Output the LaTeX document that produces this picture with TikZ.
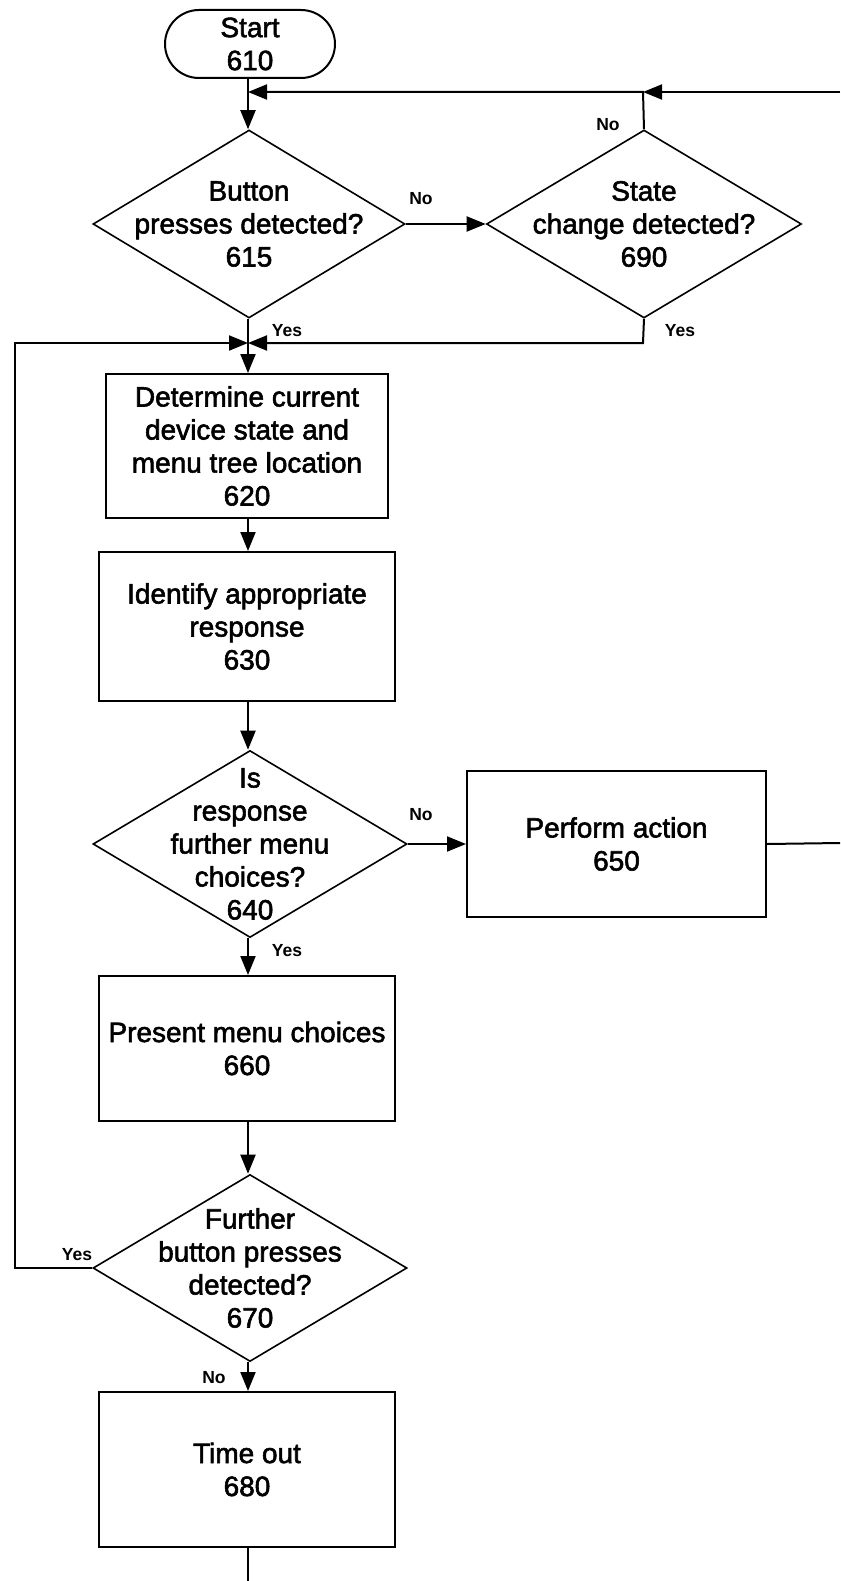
\documentclass[tikz,border=0pt]{standalone}
\usepackage{fontspec}
\setmainfont{Liberation Sans}
\newfontfamily\heavysans[FakeBold=2]{Liberation Sans}
\usetikzlibrary{shapes.geometric,arrows.meta}
\begin{document}
\begin{tikzpicture}[x=1pt,y=-1pt,
  line width=2pt,
  box/.style={draw, rectangle, inner sep=0pt, align=center,
    font=\heavysans\fontsize{28}{33}\selectfont},
  dia/.style={draw, diamond, inner sep=0pt, line width=1.6pt},
  txt/.style={align=center, font=\heavysans\fontsize{28}{33}\selectfont, inner sep=0pt},
  lab/.style={font=\bfseries\fontsize{17.5}{17.5}\selectfont, inner sep=0pt},
  arr/.style={-{Triangle[length=19pt,width=15pt]}}]
\useasboundingbox (0,0) rectangle (840,1581);

% terminal
\node[box, rounded corners=34pt, minimum width=170pt, minimum height=68pt]
  (s610) at (250,44) {Start\\610};

% decisions
\node[dia, minimum width=312pt, minimum height=188pt] (d615) at (249,224) {};
\node[txt] (t615) at (d615.center) {Button\\presses detected?\\615};
\node[dia, minimum width=315pt, minimum height=188pt] (d690) at (644,224) {};
\node[txt] (t690) at (d690.center) {State\\change detected?\\690};
\node[dia, minimum width=314pt, minimum height=187pt] (d640) at (250,844) {};
\node[txt] (t640) at (d640.center) {Is\\response\\further menu\\choices?\\640};
\node[dia, minimum width=314pt, minimum height=187pt] (d670) at (250,1268) {};
\node[txt] (t670) at (d670.center) {Further\\button presses\\detected?\\670};

% process steps
\node[box, minimum width=282pt, minimum height=144pt] (b620) at (247,446)
  {Determine current\\device state and\\menu tree location\\620};
\node[box, minimum width=296pt, minimum height=149pt] (b630) at (247,626.5)
  {Identify appropriate\\response\\630};
\node[box, minimum width=299pt, minimum height=146pt] (b650) at (616.5,844)
  {Perform action\\650};
\node[box, minimum width=296pt, minimum height=145pt] (b660) at (247,1048.5)
  {Present menu choices\\660};
\node[box, minimum width=296pt, minimum height=155pt] (b680) at (247,1469.5)
  {Time out\\680};

% junction points and free ends
\coordinate (top) at (248,92);
\coordinate (top690) at (643,92);
\coordinate (edgeTop) at (840,92);
\coordinate (join) at (248,343);
\coordinate (join690) at (643,343);
\coordinate (loopB) at (15,1268);
\coordinate (loopT) at (15,343);
\coordinate (edge650) at (840,843);
\coordinate (edgeBot) at (248,1581);

% connectors
\draw[arr] (s610.south -| top) -- (top |- d615.north);
\draw[arr] (edgeTop) -- (top690);
\draw[arr] (d690.north) -- (top690) -- (top);
\draw[arr] (d615.east) -- (d690.west);
\draw[arr] (d615.south -| join) -- (join |- b620.north);
\draw[arr] (d690.south) -- (join690) -- (join);
\draw[arr] (d670.west) -- (loopB) -- (loopT) -- (join);
\draw[arr] (b620.south -| join) -- (join |- b630.north);
\draw[arr] (b630.south -| join) -- (join |- d640.north);
\draw[arr] (d640.east) -- (b650.west);
\draw (b650.east) -- (edge650);
\draw[arr] (d640.south -| join) -- (join |- b660.north);
\draw[arr] (b660.south -| join) -- (join |- d670.north);
\draw[arr] (d670.south -| join) -- (join |- b680.north);
\draw (b680.south -| join) -- (edgeBot);

% branch labels
\node[lab] (l1) at (608,125) {No};
\node[lab] (l2) at (421,199) {No};
\node[lab] (l3) at (287,331) {Yes};
\node[lab] (l4) at (680,331) {Yes};
\node[lab] (l5) at (421,815) {No};
\node[lab] (l6) at (287,951) {Yes};
\node[lab] (l7) at (77,1255) {Yes};
\node[lab] (l8) at (214,1378) {No};
\end{tikzpicture}
\end{document}
